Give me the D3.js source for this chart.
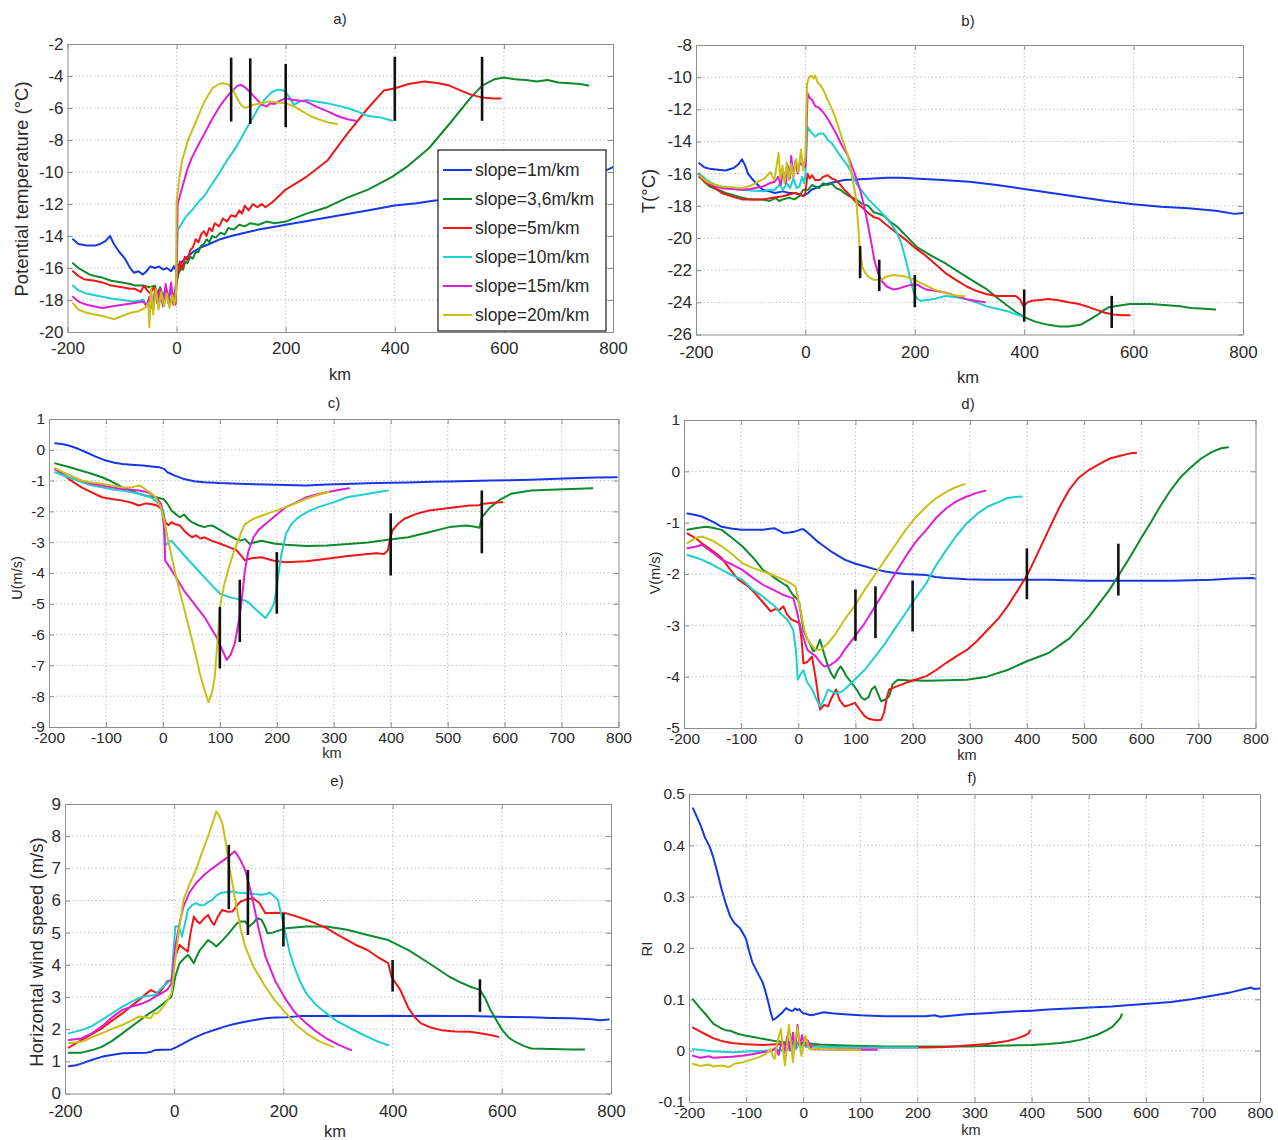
<!DOCTYPE html>
<html>
<head>
<meta charset="utf-8">
<script src="https://cdn.jsdelivr.net/npm/d3@7"></script>
<style>
  html, body { margin: 0; padding: 0; background: #fff; }
  svg { display: block; }
  text { font-family: "Liberation Sans", Arial, Helvetica, sans-serif; fill: #2a2a2a; }
</style>
</head>
<body>
<svg id="chart" width="1278" height="1140"></svg>
<script>
// ---------- series & shared values ----------
const seriesNames = ["slope=1m/km", "slope=3,6m/km", "slope=5m/km", "slope=10m/km", "slope=15m/km", "slope=20m/km"];
const seriesColors = ["#1538e6", "#0c8a2c", "#f01616", "#1ccfd0", "#e01ed6", "#c8c016"];
const markerKm = [100, 135, 200, 400, 560];

const xTicksCoarse = [-200, 0, 200, 400, 600, 800];
const xTicksFine = [-200, -100, 0, 100, 200, 300, 400, 500, 600, 700, 800];
const yTicksA = [-20, -18, -16, -14, -12, -10, -8, -6, -4, -2];
const yTicksB = [-26, -24, -22, -20, -18, -16, -14, -12, -10, -8];
const yTicksC = [-9, -8, -7, -6, -5, -4, -3, -2, -1, 0, 1];
const yTicksD = [-5, -4, -3, -2, -1, 0, 1];
const yTicksE = [0, 1, 2, 3, 4, 5, 6, 7, 8, 9];
const yTicksF = [-0.1, 0, 0.1, 0.2, 0.3, 0.4, 0.5];

// ---------- a) potential temperature (°C) vs km ----------
const thetaA1 = [[-190,-14.2],[-180,-14.5],[-165,-14.6],[-150,-14.6],[-140,-14.5],[-130,-14.3],[-122,-14.0],[-115,-14.5],[-105,-15.0],[-95,-15.4],[-85,-16.0],[-78,-16.3],[-70,-16.2],[-62,-16.4],[-55,-16.2],[-48,-15.9],[-40,-16.0],[-32,-15.9],[-25,-16.1],[-18,-16.0],[-10,-16.2],[-5,-15.9],[-2,-16.1],[0,-15.8],[5,-15.8],[10,-15.6],[20,-15.3],[30,-15.0],[45,-14.7],[60,-14.5],[80,-14.2],[100,-14.0],[125,-13.8],[150,-13.6],[175,-13.45],[200,-13.3],[250,-13.0],[300,-12.7],[350,-12.4],[400,-12.1],[440,-11.95],[470,-11.8],[500,-11.7],[550,-11.5],[600,-11.2],[650,-10.9],[700,-10.6],[750,-10.2],[790,-9.85],[800,-9.7]];
const thetaA36 = [[-190,-15.7],[-180,-16.0],[-170,-16.2],[-160,-16.4],[-150,-16.5],[-136,-16.6],[-120,-16.8],[-100,-16.9],[-85,-17.0],[-76,-17.1],[-60,-17.1],[-50,-17.2],[-40,-17.1],[-35,-17.6],[-30,-17.2],[-25,-17.8],[-20,-17.3],[-15,-17.9],[-10,-17.4],[-6,-18.1],[-3,-17.5],[0,-16.8],[3,-16.4],[8,-16.0],[12,-16.1],[16,-15.6],[20,-15.7],[25,-15.3],[30,-15.4],[35,-15.0],[40,-15.0],[45,-14.6],[50,-14.5],[55,-14.2],[60,-14.4],[65,-14.0],[72,-14.1],[80,-13.8],[88,-13.9],[95,-13.5],[105,-13.6],[115,-13.3],[125,-13.4],[135,-13.2],[150,-13.3],[165,-13.1],[180,-13.2],[200,-13.1],[238,-12.6],[276,-12.2],[313,-11.6],[351,-11.1],[395,-10.3],[425,-9.6],[463,-8.5],[500,-7.0],[538,-5.4],[560,-4.6],[583,-4.2],[600,-4.1],[620,-4.2],[640,-4.25],[660,-4.35],[680,-4.25],[700,-4.4],[720,-4.45],[740,-4.5],[755,-4.6]];
const thetaA5 = [[-190,-16.2],[-180,-16.5],[-170,-16.7],[-150,-16.8],[-136,-16.9],[-120,-17.1],[-100,-17.2],[-85,-17.3],[-76,-17.3],[-66,-17.5],[-60,-17.1],[-54,-17.4],[-48,-17.6],[-42,-17.2],[-36,-17.8],[-30,-17.3],[-24,-18.0],[-18,-17.4],[-12,-18.2],[-6,-17.6],[-2,-18.3],[0,-17.0],[3,-16.3],[6,-15.6],[10,-16.1],[15,-15.3],[20,-15.5],[25,-14.9],[30,-14.7],[35,-14.2],[40,-14.4],[45,-13.9],[50,-13.7],[55,-14.0],[60,-13.5],[65,-13.7],[70,-13.2],[78,-13.4],[85,-12.9],[92,-13.1],[100,-12.7],[108,-12.8],[115,-12.4],[120,-12.6],[125,-12.1],[132,-12.4],[140,-12.0],[148,-12.2],[156,-12.0],[163,-12.2],[175,-11.9],[200,-11.1],[238,-10.3],[276,-9.3],[313,-7.6],[351,-6.0],[380,-4.9],[402,-4.75],[425,-4.5],[455,-4.35],[480,-4.45],[500,-4.6],[520,-4.9],[538,-5.15],[560,-5.35],[580,-5.4],[594,-5.4]];
const thetaA10 = [[-190,-17.1],[-180,-17.4],[-165,-17.6],[-150,-17.7],[-136,-17.8],[-120,-17.9],[-99,-18.0],[-80,-18.1],[-61,-18.0],[-55,-18.3],[-50,-17.9],[-45,-18.4],[-40,-17.6],[-35,-18.2],[-30,-17.4],[-25,-18.3],[-20,-17.5],[-15,-18.1],[-10,-17.1],[-5,-18.2],[-2,-17.6],[0,-16.5],[2,-13.6],[8,-13.3],[15,-12.9],[22,-12.6],[28,-12.4],[35,-12.1],[42,-11.8],[51,-11.5],[60,-11.0],[70,-10.5],[80,-10.0],[88,-9.5],[100,-8.9],[110,-8.4],[126,-7.4],[140,-6.6],[150,-6.0],[163,-5.4],[175,-5.0],[186,-4.85],[195,-4.9],[200,-5.0],[208,-5.4],[215,-5.8],[225,-5.6],[238,-5.5],[255,-5.6],[276,-5.7],[295,-5.85],[313,-6.0],[330,-6.2],[351,-6.5],[375,-6.6],[395,-6.8]];
const thetaA15 = [[-190,-17.8],[-180,-18.1],[-165,-18.3],[-150,-18.4],[-136,-18.5],[-120,-18.4],[-99,-18.3],[-80,-18.2],[-61,-18.1],[-55,-18.4],[-50,-17.8],[-45,-18.5],[-40,-17.5],[-35,-18.2],[-30,-17.3],[-25,-18.4],[-20,-17.0],[-15,-18.2],[-10,-16.9],[-6,-18.3],[-2,-17.4],[0,-16.0],[2,-12.0],[10,-11.0],[20,-9.8],[28,-9.1],[40,-8.3],[51,-7.6],[65,-6.7],[81,-5.8],[92,-5.3],[103,-4.9],[112,-4.6],[118,-4.55],[125,-4.7],[133,-4.95],[145,-5.4],[156,-5.8],[165,-5.9],[172,-5.7],[180,-5.75],[186,-5.6],[200,-5.4],[215,-5.5],[238,-5.6],[255,-5.9],[276,-6.2],[295,-6.5],[313,-6.7],[328,-6.8]];
const thetaA20 = [[-190,-18.2],[-180,-18.6],[-165,-18.8],[-150,-18.9],[-136,-19.0],[-125,-19.1],[-114,-19.2],[-100,-19.0],[-84,-18.8],[-70,-18.7],[-58,-18.5],[-52,-18.2],[-50,-19.7],[-47,-17.2],[-43,-18.9],[-38,-17.3],[-33,-18.6],[-28,-17.5],[-23,-18.4],[-18,-17.6],[-13,-18.5],[-8,-17.7],[-4,-18.3],[-1,-17.5],[0,-11.8],[5,-10.4],[10,-9.3],[21,-8.0],[36,-6.8],[51,-5.6],[66,-4.75],[78,-4.5],[85,-4.45],[96,-4.55],[104,-4.9],[111,-5.4],[118,-5.8],[126,-6.0],[133,-5.9],[141,-5.8],[155,-5.7],[171,-5.6],[185,-5.65],[200,-5.7],[215,-5.9],[230,-6.2],[245,-6.5],[260,-6.7],[278,-6.9],[294,-7.0]];
const markersA = [[-2.85,-6.85],[-2.9,-7.0],[-3.25,-7.2],[-2.8,-6.8],[-2.8,-6.8]];

// ---------- b) temperature (°C) vs km ----------
const tempB1 = [[-194,-15.35],[-185,-15.6],[-175,-15.7],[-160,-15.75],[-146,-15.8],[-131,-15.65],[-122,-15.4],[-116,-15.1],[-110,-15.5],[-105,-16.0],[-98,-16.3],[-90,-16.6],[-78,-17.0],[-66,-17.1],[-56,-17.2],[-41,-17.1],[-30,-17.2],[-19,-17.2],[-10,-17.3],[-4,-17.4],[5,-17.2],[11,-17.0],[22,-16.85],[33,-16.7],[50,-16.55],[71,-16.4],[100,-16.35],[125,-16.3],[150,-16.25],[175,-16.25],[200,-16.3],[250,-16.4],[300,-16.5],[350,-16.7],[400,-16.95],[450,-17.2],[500,-17.45],[550,-17.7],[600,-17.9],[650,-18.05],[700,-18.15],[750,-18.3],[785,-18.5],[800,-18.45]];
const tempB36 = [[-194,-16.0],[-185,-16.5],[-175,-16.8],[-160,-17.0],[-146,-17.2],[-130,-17.35],[-116,-17.5],[-100,-17.6],[-78,-17.6],[-65,-17.7],[-55,-17.5],[-48,-17.7],[-41,-17.6],[-30,-17.5],[-20,-17.6],[-11,-17.4],[-4,-17.0],[5,-17.0],[12,-16.7],[18,-16.8],[25,-16.9],[32,-16.6],[41,-16.7],[48,-16.6],[56,-16.9],[64,-17.0],[71,-17.2],[80,-17.4],[93,-17.6],[104,-17.9],[115,-18.0],[125,-18.4],[135,-18.5],[145,-18.65],[155,-19.0],[168,-19.3],[185,-19.9],[205,-20.6],[230,-21.1],[257,-21.6],[275,-22.0],[294,-22.4],[313,-22.8],[332,-23.2],[350,-23.7],[369,-24.2],[385,-24.6],[399,-24.9],[420,-25.2],[444,-25.4],[465,-25.5],[481,-25.5],[503,-25.4],[518,-25.1],[533,-24.8],[545,-24.5],[555,-24.3],[575,-24.2],[593,-24.1],[630,-24.1],[650,-24.15],[667,-24.2],[685,-24.25],[705,-24.35],[730,-24.4],[749,-24.45]];
const tempB5 = [[-194,-16.2],[-180,-16.6],[-165,-16.9],[-153,-17.2],[-135,-17.4],[-116,-17.6],[-100,-17.6],[-78,-17.6],[-60,-17.5],[-41,-17.4],[-30,-17.3],[-19,-17.2],[-10,-17.3],[-4,-17.4],[0,-17.2],[4,-16.0],[8,-16.3],[12,-16.1],[18,-16.4],[26,-16.4],[32,-16.2],[41,-16.1],[48,-16.3],[56,-16.4],[64,-16.7],[71,-17.0],[80,-17.3],[93,-17.8],[104,-18.1],[115,-18.45],[125,-18.7],[135,-18.8],[145,-19.1],[160,-19.5],[183,-20.1],[200,-20.6],[220,-21.1],[240,-21.7],[257,-22.2],[275,-22.6],[294,-23.0],[313,-23.3],[332,-23.5],[350,-23.6],[369,-23.6],[384,-23.6],[392,-23.8],[399,-24.25],[406,-24.0],[414,-23.9],[430,-23.85],[444,-23.8],[460,-23.85],[481,-24.0],[500,-24.1],[518,-24.3],[535,-24.5],[548,-24.65],[563,-24.75],[580,-24.8],[593,-24.8]];
const tempB10 = [[-194,-16.0],[-180,-16.4],[-165,-16.7],[-153,-16.8],[-135,-16.9],[-116,-17.0],[-100,-17.05],[-78,-17.1],[-66,-17.0],[-56,-17.0],[-48,-16.7],[-41,-17.0],[-34,-16.6],[-28,-16.9],[-22,-16.3],[-16,-16.9],[-11,-16.8],[-6,-16.2],[-2,-16.6],[0,-16.0],[4,-13.1],[10,-13.4],[18,-13.7],[25,-13.5],[33,-13.5],[41,-13.9],[48,-14.1],[56,-14.5],[66,-15.0],[78,-15.55],[85,-16.0],[93,-16.6],[104,-17.1],[115,-17.6],[130,-18.1],[145,-18.65],[158,-19.2],[168,-19.7],[176,-20.4],[183,-21.3],[190,-22.3],[198,-23.4],[205,-23.8],[212,-23.9],[222,-23.85],[235,-23.8],[245,-23.7],[257,-23.6],[268,-23.65],[279,-23.7],[294,-23.8],[312,-24.0],[332,-24.25],[350,-24.4],[369,-24.55],[385,-24.75],[399,-24.9]];
const tempB15 = [[-194,-16.1],[-180,-16.5],[-165,-16.8],[-153,-16.9],[-135,-16.95],[-116,-17.0],[-100,-16.95],[-78,-16.8],[-66,-16.6],[-56,-16.5],[-50,-16.2],[-45,-16.7],[-41,-15.8],[-36,-16.6],[-32,-15.5],[-28,-16.3],[-26,-14.9],[-22,-16.2],[-18,-15.2],[-14,-16.0],[-10,-15.3],[-4,-15.55],[0,-15.6],[4,-11.0],[8,-11.3],[12,-11.4],[18,-11.8],[25,-11.9],[33,-12.2],[41,-12.6],[48,-13.0],[56,-13.5],[66,-14.2],[78,-14.9],[90,-16.0],[100,-17.0],[108,-18.1],[115,-19.3],[121,-20.4],[126,-21.35],[132,-22.1],[138,-22.6],[148,-23.0],[160,-23.2],[170,-23.15],[183,-23.0],[195,-22.9],[205,-22.9],[212,-23.05],[220,-23.2],[240,-23.3],[257,-23.4],[275,-23.6],[294,-23.8],[310,-23.9],[328,-24.0]];
const tempB20 = [[-194,-16.1],[-180,-16.5],[-165,-16.7],[-153,-16.8],[-135,-16.85],[-116,-16.9],[-100,-16.75],[-86,-16.5],[-75,-16.3],[-64,-15.9],[-57,-16.4],[-53,-15.6],[-49,-14.7],[-46,-16.3],[-42,-15.5],[-38,-16.6],[-34,-15.3],[-30,-16.4],[-26,-15.4],[-22,-16.2],[-17,-15.1],[-13,-15.9],[-8,-14.5],[-4,-15.8],[0,-14.8],[3,-10.4],[7,-10.0],[11,-9.9],[15,-10.1],[18,-9.9],[22,-10.3],[27,-10.5],[33,-10.8],[42,-11.5],[50,-12.1],[56,-12.65],[66,-13.7],[78,-14.9],[86,-16.3],[93,-17.6],[96,-19.0],[99,-20.5],[104,-21.8],[110,-22.2],[115,-22.4],[125,-22.6],[138,-22.6],[148,-22.4],[160,-22.3],[172,-22.35],[183,-22.4],[195,-22.55],[205,-22.7],[220,-22.95],[235,-23.2],[250,-23.35],[265,-23.5],[280,-23.6],[291,-23.6]];
const markersB = [[-20.5,-22.5],[-21.35,-23.3],[-22.3,-24.3],[-23.2,-25.2],[-23.6,-25.6]];

// ---------- c) U (m/s) vs km ----------
const uC1 = [[-189,0.21],[-175,0.18],[-164,0.13],[-150,0.04],[-135,-0.08],[-118,-0.22],[-100,-0.35],[-85,-0.42],[-71,-0.46],[-50,-0.49],[-35,-0.51],[-20,-0.54],[-6,-0.57],[2,-0.62],[8,-0.73],[20,-0.83],[37,-0.95],[55,-1.02],[73,-1.05],[100,-1.08],[144,-1.11],[180,-1.13],[216,-1.14],[252,-1.16],[288,-1.13],[320,-1.11],[360,-1.09],[400,-1.07],[431,-1.06],[470,-1.04],[503,-1.03],[540,-1.01],[575,-1.0],[610,-0.99],[647,-0.97],[680,-0.95],[718,-0.92],[760,-0.9],[797,-0.89]];
const uC36 = [[-189,-0.44],[-165,-0.56],[-143,-0.68],[-125,-0.78],[-107,-0.89],[-90,-1.03],[-71,-1.22],[-55,-1.33],[-42,-1.43],[-28,-1.5],[-13,-1.54],[1,-1.6],[8,-1.75],[15,-1.97],[22,-2.08],[30,-2.19],[37,-2.1],[44,-2.25],[51,-2.35],[62,-2.45],[73,-2.51],[80,-2.47],[87,-2.46],[100,-2.6],[116,-2.78],[128,-2.9],[137,-2.95],[144,-2.9],[152,-3.05],[162,-3.0],[173,-2.95],[195,-3.04],[216,-3.08],[252,-3.12],[288,-3.11],[325,-3.06],[360,-3.01],[395,-2.92],[431,-2.84],[467,-2.68],[503,-2.51],[532,-2.46],[548,-2.5],[556,-2.53],[560,-2.19],[575,-1.86],[592,-1.62],[611,-1.43],[630,-1.37],[647,-1.32],[680,-1.3],[718,-1.27],[754,-1.25]];
const uC5 = [[-189,-0.62],[-165,-0.95],[-143,-1.22],[-125,-1.38],[-107,-1.54],[-90,-1.6],[-71,-1.65],[-55,-1.72],[-42,-1.81],[-30,-1.74],[-21,-1.76],[-12,-1.8],[-6,-1.86],[0,-2.0],[4,-2.35],[10,-2.45],[15,-2.35],[22,-2.42],[30,-2.46],[40,-2.68],[51,-2.84],[58,-2.78],[66,-2.88],[73,-2.84],[85,-2.95],[101,-3.05],[115,-3.15],[130,-3.27],[138,-3.45],[144,-3.59],[155,-3.52],[173,-3.49],[195,-3.6],[216,-3.65],[252,-3.62],[288,-3.54],[325,-3.45],[360,-3.38],[375,-3.36],[388,-3.38],[395,-3.27],[399,-2.9],[403,-2.62],[412,-2.42],[424,-2.24],[445,-2.08],[467,-1.97],[503,-1.89],[539,-1.81],[555,-1.8],[560,-1.76],[580,-1.72],[596,-1.7]];
const uC10 = [[-189,-0.73],[-165,-0.9],[-143,-1.05],[-125,-1.15],[-107,-1.22],[-90,-1.28],[-71,-1.32],[-55,-1.38],[-42,-1.43],[-30,-1.5],[-21,-1.54],[-10,-1.7],[1,-1.97],[4,-3.11],[10,-3.0],[15,-2.95],[22,-3.1],[30,-3.27],[40,-3.48],[51,-3.7],[62,-3.92],[73,-4.14],[87,-4.42],[101,-4.68],[120,-4.8],[144,-4.89],[152,-4.98],[159,-5.11],[170,-5.3],[180,-5.46],[188,-5.25],[195,-5.0],[199,-4.6],[202,-4.14],[208,-3.4],[216,-2.73],[226,-2.4],[238,-2.19],[255,-2.0],[273,-1.86],[300,-1.7],[324,-1.54],[360,-1.43],[395,-1.32]];
const uC15 = [[-189,-0.64],[-165,-0.82],[-143,-1.0],[-125,-1.1],[-107,-1.16],[-90,-1.22],[-71,-1.27],[-55,-1.3],[-42,-1.32],[-30,-1.36],[-21,-1.43],[-10,-1.58],[-3,-1.76],[2,-2.5],[4,-3.59],[15,-3.9],[25,-4.2],[37,-4.57],[55,-5.0],[73,-5.43],[85,-5.8],[94,-6.08],[103,-6.45],[112,-6.82],[119,-6.65],[126,-6.3],[132,-5.7],[137,-5.1],[144,-3.92],[150,-3.3],[159,-2.84],[168,-2.6],[180,-2.41],[200,-2.1],[216,-1.86],[235,-1.7],[252,-1.54],[270,-1.45],[288,-1.38],[310,-1.3],[327,-1.25]];
const uC20 = [[-189,-0.6],[-165,-0.82],[-143,-1.0],[-125,-1.06],[-107,-1.1],[-90,-1.16],[-71,-1.22],[-55,-1.22],[-42,-1.16],[-35,-1.22],[-28,-1.32],[-20,-1.42],[-13,-1.54],[-5,-1.8],[1,-2.19],[10,-3.0],[22,-4.03],[33,-4.85],[44,-5.65],[55,-6.45],[65,-7.27],[73,-7.8],[80,-8.19],[86,-7.9],[91,-7.38],[96,-6.2],[101,-5.0],[108,-4.35],[116,-3.81],[123,-3.4],[130,-3.05],[137,-2.7],[144,-2.41],[158,-2.25],[173,-2.14],[195,-2.0],[216,-1.86],[235,-1.72],[252,-1.59],[272,-1.47],[291,-1.36]];
const markersC = [[-5.1,-7.1],[-4.22,-6.24],[-3.32,-5.32],[-2.06,-4.08],[-1.32,-3.36]];

// ---------- d) V (m/s) vs km ----------
const vD1 = [[-194,-0.82],[-180,-0.85],[-169,-0.88],[-150,-0.98],[-134,-1.08],[-115,-1.12],[-98,-1.14],[-80,-1.14],[-62,-1.14],[-50,-1.12],[-41,-1.11],[-33,-1.16],[-26,-1.2],[-15,-1.19],[-5,-1.17],[5,-1.13],[9,-1.13],[15,-1.18],[24,-1.27],[35,-1.38],[45,-1.46],[60,-1.58],[81,-1.72],[100,-1.8],[116,-1.85],[135,-1.91],[152,-1.95],[170,-1.98],[188,-2.0],[205,-2.01],[224,-2.02],[240,-2.06],[259,-2.08],[295,-2.1],[330,-2.11],[366,-2.11],[400,-2.11],[438,-2.11],[470,-2.12],[509,-2.13],[545,-2.13],[581,-2.13],[620,-2.13],[652,-2.13],[690,-2.12],[724,-2.11],[760,-2.09],[795,-2.08],[800,-2.09]];
const vD36 = [[-194,-1.14],[-180,-1.11],[-162,-1.08],[-150,-1.1],[-134,-1.14],[-118,-1.28],[-98,-1.46],[-86,-1.6],[-76,-1.72],[-62,-1.92],[-50,-2.0],[-41,-2.08],[-30,-2.16],[-19,-2.24],[-10,-2.4],[-1,-2.5],[2,-2.57],[5,-2.8],[9,-3.09],[15,-3.25],[20,-3.35],[26,-3.5],[31,-3.48],[38,-3.28],[45,-3.55],[52,-3.8],[58,-3.95],[63,-4.03],[68,-3.9],[74,-3.8],[80,-3.9],[84,-3.99],[92,-4.1],[102,-4.25],[110,-4.4],[116,-4.45],[123,-4.4],[128,-4.25],[134,-4.19],[140,-4.35],[145,-4.48],[152,-4.45],[159,-4.38],[165,-4.15],[174,-4.06],[190,-4.07],[224,-4.08],[260,-4.07],[295,-4.06],[330,-4.0],[366,-3.87],[400,-3.7],[438,-3.54],[475,-3.25],[509,-2.83],[545,-2.3],[581,-1.66],[600,-1.3],[616,-1.01],[635,-0.65],[652,-0.36],[670,-0.1],[688,0.09],[705,0.25],[724,0.38],[740,0.45],[752,0.47]];
const vD5 = [[-194,-1.21],[-180,-1.3],[-169,-1.4],[-150,-1.55],[-134,-1.69],[-120,-1.9],[-105,-2.11],[-90,-2.22],[-76,-2.37],[-62,-2.55],[-48,-2.73],[-40,-2.68],[-33,-2.7],[-26,-2.63],[-20,-2.78],[-12,-2.89],[-5,-2.92],[2,-2.96],[6,-3.3],[9,-3.74],[15,-3.72],[24,-3.61],[30,-4.0],[38,-4.64],[45,-4.55],[52,-4.58],[58,-4.42],[66,-4.25],[72,-4.45],[81,-4.58],[90,-4.55],[99,-4.51],[108,-4.65],[116,-4.77],[123,-4.82],[131,-4.84],[138,-4.85],[145,-4.84],[150,-4.7],[155,-4.4],[159,-4.25],[170,-4.2],[188,-4.12],[205,-4.06],[224,-3.99],[240,-3.88],[259,-3.73],[277,-3.6],[295,-3.48],[313,-3.3],[331,-3.09],[350,-2.87],[366,-2.63],[385,-2.3],[402,-1.99],[420,-1.57],[438,-1.14],[456,-0.72],[474,-0.36],[490,-0.13],[509,0.03],[528,0.15],[545,0.25],[562,0.3],[581,0.35],[591,0.36]];
const vD10 = [[-194,-1.63],[-180,-1.68],[-169,-1.72],[-150,-1.82],[-134,-1.92],[-120,-2.0],[-110,-2.05],[-98,-2.11],[-80,-2.3],[-62,-2.44],[-50,-2.55],[-41,-2.63],[-30,-2.78],[-19,-2.89],[-9,-3.09],[-4,-3.5],[-1,-4.06],[4,-3.95],[9,-3.87],[15,-4.1],[24,-4.25],[30,-4.4],[38,-4.58],[45,-4.45],[52,-4.25],[60,-4.3],[66,-4.32],[75,-4.3],[81,-4.25],[95,-4.1],[116,-3.87],[135,-3.6],[152,-3.35],[170,-3.05],[188,-2.76],[205,-2.47],[224,-2.18],[240,-1.85],[259,-1.53],[277,-1.25],[295,-1.01],[313,-0.83],[331,-0.69],[350,-0.6],[366,-0.52],[380,-0.5],[391,-0.49]];
const vD15 = [[-194,-1.5],[-180,-1.47],[-169,-1.43],[-150,-1.58],[-134,-1.72],[-115,-1.82],[-98,-1.92],[-80,-2.07],[-62,-2.21],[-45,-2.3],[-26,-2.41],[-15,-2.45],[-9,-2.47],[-3,-2.7],[2,-2.96],[8,-3.2],[16,-3.48],[24,-3.55],[31,-3.61],[38,-3.72],[45,-3.8],[55,-3.78],[66,-3.7],[74,-3.6],[81,-3.48],[100,-3.2],[116,-2.96],[135,-2.62],[152,-2.31],[170,-1.98],[188,-1.66],[205,-1.38],[224,-1.14],[240,-0.92],[259,-0.72],[277,-0.58],[295,-0.49],[312,-0.42],[327,-0.38]];
const vD20 = [[-194,-1.4],[-180,-1.3],[-169,-1.27],[-150,-1.35],[-134,-1.46],[-115,-1.62],[-98,-1.79],[-80,-1.88],[-62,-1.95],[-45,-2.02],[-26,-2.11],[-15,-2.17],[-5,-2.24],[0,-2.5],[6,-2.83],[11,-3.1],[16,-3.28],[24,-3.4],[31,-3.48],[40,-3.47],[52,-3.35],[66,-3.15],[81,-2.89],[100,-2.6],[116,-2.31],[135,-2.0],[152,-1.72],[170,-1.43],[188,-1.14],[205,-0.9],[224,-0.69],[240,-0.53],[259,-0.4],[275,-0.31],[291,-0.25]];
const markersD = [[-2.3,-3.3],[-2.24,-3.25],[-2.13,-3.12],[-1.5,-2.49],[-1.41,-2.42]];

// ---------- e) horizontal wind speed (m/s) vs km ----------
const wsE1 = [[-193,0.85],[-180,0.88],[-170,0.93],[-150,1.05],[-133,1.14],[-115,1.2],[-95,1.25],[-75,1.26],[-50,1.27],[-42,1.3],[-35,1.35],[-20,1.36],[-5,1.37],[5,1.45],[17,1.56],[35,1.72],[55,1.87],[75,1.98],[92,2.08],[110,2.16],[130,2.23],[150,2.29],[167,2.34],[185,2.36],[205,2.37],[220,2.39],[234,2.41],[279,2.41],[320,2.42],[354,2.41],[400,2.42],[429,2.41],[470,2.42],[504,2.41],[540,2.41],[579,2.39],[620,2.38],[654,2.37],[690,2.35],[729,2.34],[765,2.31],[780,2.28],[796,2.3]];
const wsE36 = [[-193,1.27],[-170,1.27],[-150,1.35],[-133,1.45],[-115,1.62],[-95,1.87],[-75,2.12],[-58,2.34],[-45,2.5],[-35,2.6],[-20,2.8],[-5,3.01],[2,3.63],[6,3.85],[10,4.05],[18,4.2],[25,4.31],[30,4.2],[36,4.05],[41,4.25],[47,4.46],[55,4.62],[62,4.77],[70,4.68],[77,4.57],[88,4.75],[100,4.98],[108,5.15],[115,5.29],[122,5.35],[130,5.35],[137,5.19],[145,5.3],[152,5.45],[160,5.4],[166,5.2],[171,4.98],[180,5.0],[205,5.14],[242,5.19],[279,5.19],[317,5.09],[354,4.93],[392,4.77],[429,4.46],[467,4.05],[504,3.63],[525,3.45],[542,3.32],[560,3.22],[570,2.95],[579,2.6],[590,2.28],[601,1.97],[612,1.75],[624,1.61],[640,1.48],[654,1.4],[690,1.38],[729,1.37],[751,1.37]];
const wsE5 = [[-193,1.43],[-170,1.66],[-150,1.85],[-133,2.02],[-115,2.25],[-95,2.49],[-80,2.7],[-65,2.9],[-55,3.05],[-43,3.22],[-35,3.15],[-28,3.11],[-20,3.3],[-13,3.48],[-5,3.53],[2,4.26],[10,4.62],[18,4.5],[25,4.41],[30,5.0],[36,5.5],[42,5.35],[47,5.29],[55,5.45],[62,5.55],[68,5.35],[73,5.24],[80,5.5],[88,5.71],[98,5.65],[107,5.66],[115,5.85],[122,5.97],[135,6.05],[145,6.07],[150,6.0],[156,5.92],[162,5.75],[167,5.6],[185,5.62],[205,5.6],[225,5.5],[242,5.4],[260,5.28],[279,5.14],[298,4.95],[317,4.77],[335,4.6],[354,4.46],[372,4.25],[392,4.05],[398,3.63],[405,3.45],[414,3.22],[420,3.0],[429,2.65],[440,2.38],[452,2.18],[470,2.05],[489,1.97],[515,1.93],[542,1.92],[560,1.87],[579,1.82],[594,1.76]];
const wsE10 = [[-193,1.87],[-170,1.97],[-150,2.1],[-133,2.28],[-115,2.48],[-95,2.7],[-75,2.88],[-58,3.01],[-45,3.04],[-35,3.06],[-25,3.25],[-13,3.43],[-5,3.53],[2,5.19],[8,5.2],[14,4.88],[20,5.3],[25,5.71],[32,5.85],[40,5.92],[48,5.85],[55,5.86],[62,5.95],[70,6.02],[77,6.15],[85,6.23],[95,6.26],[107,6.28],[118,6.24],[130,6.23],[145,6.2],[160,6.18],[168,6.2],[175,6.25],[182,6.15],[190,6.02],[197,5.5],[205,4.88],[212,4.35],[220,3.94],[230,3.5],[242,3.11],[260,2.75],[279,2.49],[298,2.25],[317,2.08],[335,1.92],[354,1.76],[372,1.62],[392,1.5]];
const wsE15 = [[-193,1.66],[-170,1.71],[-150,1.88],[-133,2.08],[-115,2.35],[-95,2.6],[-75,2.72],[-58,2.8],[-45,2.9],[-35,3.01],[-25,3.1],[-13,3.22],[-5,3.43],[2,4.57],[10,5.3],[17,5.81],[28,6.25],[40,6.54],[55,6.8],[70,7.0],[82,7.15],[92,7.27],[102,7.4],[111,7.53],[120,7.3],[130,6.95],[137,6.5],[145,5.92],[155,5.1],[167,4.26],[185,3.5],[205,2.91],[222,2.5],[242,2.18],[260,1.93],[279,1.71],[300,1.52],[324,1.35]];
const wsE20 = [[-193,1.56],[-170,1.61],[-150,1.75],[-133,1.87],[-115,2.0],[-95,2.13],[-80,2.25],[-65,2.39],[-55,2.38],[-43,2.34],[-37,2.5],[-31,2.49],[-25,2.6],[-20,2.7],[-12,2.9],[-5,3.11],[2,4.15],[8,5.0],[17,6.02],[28,6.5],[40,6.95],[50,7.45],[62,7.99],[70,8.4],[77,8.77],[82,8.65],[88,8.41],[94,7.85],[100,7.16],[108,6.4],[115,5.71],[122,5.1],[130,4.57],[145,3.95],[167,3.32],[185,2.88],[205,2.49],[222,2.15],[242,1.87],[265,1.63],[291,1.45]];
const markersE = [[7.73,5.73],[6.95,4.93],[5.6,4.57],[4.15,3.17],[3.55,2.54]];

// ---------- f) Richardson number vs km ----------
const riF1 = [[-193,0.472],[-186,0.455],[-179,0.437],[-172,0.415],[-164,0.398],[-157,0.375],[-150,0.346],[-143,0.315],[-136,0.288],[-128,0.262],[-121,0.249],[-115,0.243],[-111,0.239],[-105,0.228],[-100,0.217],[-95,0.195],[-89,0.172],[-80,0.152],[-71,0.133],[-66,0.115],[-61,0.094],[-57,0.075],[-53,0.06],[-48,0.063],[-43,0.068],[-36,0.075],[-30,0.083],[-26,0.08],[-22,0.078],[-18,0.078],[-14,0.082],[-10,0.079],[-7,0.081],[-3,0.076],[0,0.073],[5,0.072],[10,0.07],[15,0.069],[25,0.072],[36,0.075],[50,0.073],[72,0.071],[100,0.069],[143,0.067],[180,0.067],[215,0.067],[230,0.069],[240,0.066],[286,0.071],[320,0.073],[358,0.076],[400,0.078],[429,0.08],[465,0.082],[501,0.084],[540,0.086],[573,0.089],[610,0.092],[644,0.095],[680,0.1],[716,0.107],[750,0.114],[773,0.12],[785,0.123],[790,0.12],[800,0.121]];
const riF36 = [[-193,0.1],[-186,0.09],[-179,0.081],[-170,0.07],[-163,0.06],[-157,0.052],[-150,0.048],[-143,0.043],[-136,0.04],[-128,0.039],[-115,0.033],[-100,0.029],[-85,0.026],[-71,0.023],[-55,0.02],[-35,0.017],[-15,0.016],[0,0.015],[30,0.012],[72,0.01],[143,0.008],[215,0.008],[286,0.008],[358,0.01],[400,0.011],[429,0.013],[450,0.015],[465,0.017],[485,0.021],[501,0.026],[515,0.031],[530,0.039],[542,0.047],[551,0.058],[556,0.065],[558,0.071]];
const riF5 = [[-193,0.045],[-185,0.04],[-171,0.032],[-157,0.024],[-143,0.019],[-125,0.015],[-107,0.013],[-90,0.012],[-71,0.011],[-55,0.012],[-35,0.013],[-15,0.012],[0,0.011],[30,0.008],[72,0.006],[143,0.006],[215,0.006],[250,0.007],[286,0.01],[322,0.013],[340,0.016],[358,0.019],[375,0.024],[387,0.029],[395,0.034],[397,0.039]];
const riF10 = [[-193,0.003],[-175,0.001],[-160,-0.001],[-143,-0.002],[-125,-0.003],[-107,-0.002],[-90,-0.001],[-71,0.0],[-55,0.001],[-45,0.002],[-38,0.0],[-32,0.008],[-28,0.001],[-24,0.012],[-20,0.002],[-16,0.014],[-12,0.004],[-8,0.016],[-4,0.006],[0,0.012],[5,0.007],[15,0.008],[40,0.007],[72,0.006],[110,0.006],[143,0.006],[175,0.006],[200,0.006]];
const riF15 = [[-193,-0.01],[-180,-0.014],[-165,-0.011],[-157,-0.014],[-143,-0.013],[-125,-0.012],[-107,-0.01],[-90,-0.007],[-71,-0.003],[-55,0.0],[-48,0.006],[-43,-0.008],[-38,0.018],[-33,-0.004],[-28,0.028],[-23,0.0],[-18,0.035],[-14,0.004],[-10,0.05],[-6,0.01],[-2,0.03],[2,0.012],[8,0.02],[15,0.003],[30,0.003],[72,0.002],[100,0.002],[129,0.002]];
const riF20 = [[-193,-0.026],[-180,-0.03],[-165,-0.027],[-157,-0.031],[-143,-0.029],[-130,-0.032],[-120,-0.025],[-107,-0.023],[-92,-0.018],[-78,-0.013],[-65,-0.006],[-57,0.003],[-53,-0.012],[-50,-0.016],[-45,0.018],[-39,0.042],[-35,0.0],[-32,-0.029],[-28,0.015],[-25,0.05],[-21,0.01],[-18,-0.022],[-14,0.02],[-10,0.045],[-6,0.01],[-3,-0.01],[1,0.012],[4,0.029],[8,0.012],[11,0.003],[22,0.004],[50,0.002],[72,0.002],[100,0.001]];

// ---------- panel layout ----------
const panels = [
  { id: "a", box: [67.5, 44, 613, 332], yDomain: [-20, -2], xTicks: xTicksCoarse, yTicks: yTicksA,
    tickSize: 17, xPad: 10, title: "a)", titlePos: [340, 18], xlabPos: [340, 374], xlabSize: 16.5,
    ylab: "Potential temperature (°C)", ylabPos: [21, 189], ylabSize: 18.5,
    series: [thetaA1, thetaA36, thetaA5, thetaA10, thetaA15, thetaA20], markers: markersA, legend: true },
  { id: "b", box: [696, 45, 1243, 334.5], yDomain: [-26, -8], xTicks: xTicksCoarse, yTicks: yTicksB,
    tickSize: 17, xPad: 11, title: "b)", titlePos: [968, 20], xlabPos: [968, 377], xlabSize: 16.5,
    ylab: "T(°C)", ylabPos: [648, 191], ylabSize: 18.5,
    series: [tempB1, tempB36, tempB5, tempB10, tempB15, tempB20], markers: markersB },
  { id: "c", box: [49, 419, 618.5, 727], yDomain: [-9, 1], xTicks: xTicksFine, yTicks: yTicksC,
    tickSize: 15.5, xPad: 5, title: "c)", titlePos: [334, 402], xlabPos: [332, 753], xlabSize: 14.5,
    ylab: "U(m/s)", ylabPos: [17, 578], ylabSize: 14.5,
    series: [uC1, uC36, uC5, uC10, uC15, uC20], markers: markersC },
  { id: "d", box: [684, 420, 1255.5, 728], yDomain: [-5, 1], xTicks: xTicksFine, yTicks: yTicksD,
    tickSize: 15.5, xPad: 5, title: "d)", titlePos: [968, 403], xlabPos: [967, 755], xlabSize: 14.5,
    ylab: "V(m/s)", ylabPos: [655, 573], ylabSize: 14.5,
    series: [vD1, vD36, vD5, vD10, vD15, vD20], markers: markersD },
  { id: "e", box: [65, 804, 611, 1093.5], yDomain: [0, 9], xTicks: xTicksCoarse, yTicks: yTicksE,
    tickSize: 17, xPad: 11, title: "e)", titlePos: [337, 780], xlabPos: [335, 1131], xlabSize: 16.5,
    ylab: "Horizontal wind speed (m/s)", ylabPos: [36, 952], ylabSize: 18.5,
    series: [wsE1, wsE36, wsE5, wsE10, wsE15, wsE20], markers: markersE },
  { id: "f", box: [689, 794, 1260, 1102], yDomain: [-0.1, 0.5], xTicks: xTicksFine, yTicks: yTicksF,
    tickSize: 15.5, xPad: 5, title: "f)", titlePos: [972, 777], xlabPos: [971, 1130], xlabSize: 14.5,
    ylab: "RI", ylabPos: [646, 949], ylabSize: 15,
    series: [riF1, riF36, riF5, riF10, riF15, riF20], markers: null }
];

const svg = d3.select("#chart");
const fmt = v => (Math.abs(v) < 1e-9 ? "0" : String(+v.toFixed(2)));

panels.forEach(p => {
  const [l, t, r, b] = p.box;
  const x = d3.scaleLinear().domain([-200, 800]).range([l, r]);
  const y = d3.scaleLinear().domain(p.yDomain).range([b, t]);
  const g = svg.append("g").attr("class", "panel-" + p.id);

  // dotted grid
  const grid = g.append("g").attr("stroke", "#b4b4b4").attr("stroke-width", 1).attr("stroke-dasharray", "1.2,2.6");
  grid.selectAll(".gx").data(p.xTicks.slice(1, -1)).join("line")
    .attr("x1", d => x(d)).attr("x2", d => x(d)).attr("y1", t).attr("y2", b);
  grid.selectAll(".gy").data(p.yTicks.slice(1, -1)).join("line")
    .attr("y1", d => y(d)).attr("y2", d => y(d)).attr("x1", l).attr("x2", r);

  // axes with inward ticks (labels on bottom/left only)
  const styleAxis = (sel, size) => {
    sel.select(".domain").attr("stroke", "#8c8c8c");
    sel.selectAll(".tick line").attr("stroke", "#8c8c8c");
    sel.selectAll(".tick text").attr("fill", "#2a2a2a")
      .style("font-family", '"Liberation Sans", Arial, Helvetica, sans-serif').style("font-size", size + "px");
  };
  g.append("g").attr("transform", `translate(0,${b})`)
    .call(d3.axisBottom(x).tickValues(p.xTicks).tickSize(-5).tickSizeOuter(0).tickPadding(p.xPad).tickFormat(fmt))
    .call(s => styleAxis(s, p.tickSize));
  g.append("g").attr("transform", `translate(0,${t})`)
    .call(d3.axisTop(x).tickValues(p.xTicks).tickSize(-5).tickSizeOuter(0).tickFormat(""))
    .call(s => styleAxis(s, p.tickSize));
  g.append("g").attr("transform", `translate(${l},0)`)
    .call(d3.axisLeft(y).tickValues(p.yTicks).tickSize(-5).tickSizeOuter(0).tickPadding(4).tickFormat(fmt))
    .call(s => styleAxis(s, p.tickSize));
  g.append("g").attr("transform", `translate(${r},0)`)
    .call(d3.axisRight(y).tickValues(p.yTicks).tickSize(-5).tickSizeOuter(0).tickFormat(""))
    .call(s => styleAxis(s, p.tickSize));

  // data lines
  const clipId = "clip-" + p.id;
  g.append("clipPath").attr("id", clipId).append("rect")
    .attr("x", l).attr("y", t - 1).attr("width", r - l).attr("height", b - t + 2);
  const line = d3.line().x(d => x(d[0])).y(d => y(d[1]));
  const lines = g.append("g").attr("clip-path", `url(#${clipId})`);
  p.series.forEach((s, i) => {
    lines.append("path").datum(s).attr("d", line)
      .attr("fill", "none").attr("stroke", seriesColors[i]).attr("stroke-width", 2)
      .attr("stroke-linejoin", "round").attr("stroke-linecap", "round");
  });

  // black marker bars at the slope-dependent positions
  if (p.markers) {
    g.append("g").selectAll("line").data(p.markers).join("line")
      .attr("x1", (d, i) => x(markerKm[i])).attr("x2", (d, i) => x(markerKm[i]))
      .attr("y1", d => y(d[0])).attr("y2", d => y(d[1]))
      .attr("stroke", "#111").attr("stroke-width", 2.6);
  }

  // texts
  g.append("text").attr("x", p.titlePos[0]).attr("y", p.titlePos[1])
    .attr("text-anchor", "middle").attr("dominant-baseline", "central")
    .style("font-size", "15px").text(p.title);
  g.append("text").attr("x", p.xlabPos[0]).attr("y", p.xlabPos[1])
    .attr("text-anchor", "middle").attr("dominant-baseline", "central")
    .style("font-size", p.xlabSize + "px").text("km");
  g.append("text").attr("transform", `translate(${p.ylabPos[0]},${p.ylabPos[1]}) rotate(-90)`)
    .attr("text-anchor", "middle").attr("dominant-baseline", "central")
    .style("font-size", p.ylabSize + "px").text(p.ylab);

  // legend (panel a)
  if (p.legend) {
    const lg = g.append("g");
    lg.append("rect").attr("x", 438).attr("y", 150).attr("width", 168).attr("height", 181)
      .attr("fill", "#fff").attr("stroke", "#2a2a2a").attr("stroke-width", 1.3);
    seriesNames.forEach((name, i) => {
      const yy = 170 + i * 29;
      lg.append("line").attr("x1", 443).attr("x2", 472).attr("y1", yy).attr("y2", yy)
        .attr("stroke", seriesColors[i]).attr("stroke-width", 2);
      lg.append("text").attr("x", 475).attr("y", yy).attr("dominant-baseline", "central")
        .style("font-size", "17.5px").text(name);
    });
  }
});
</script>
</body>
</html>
